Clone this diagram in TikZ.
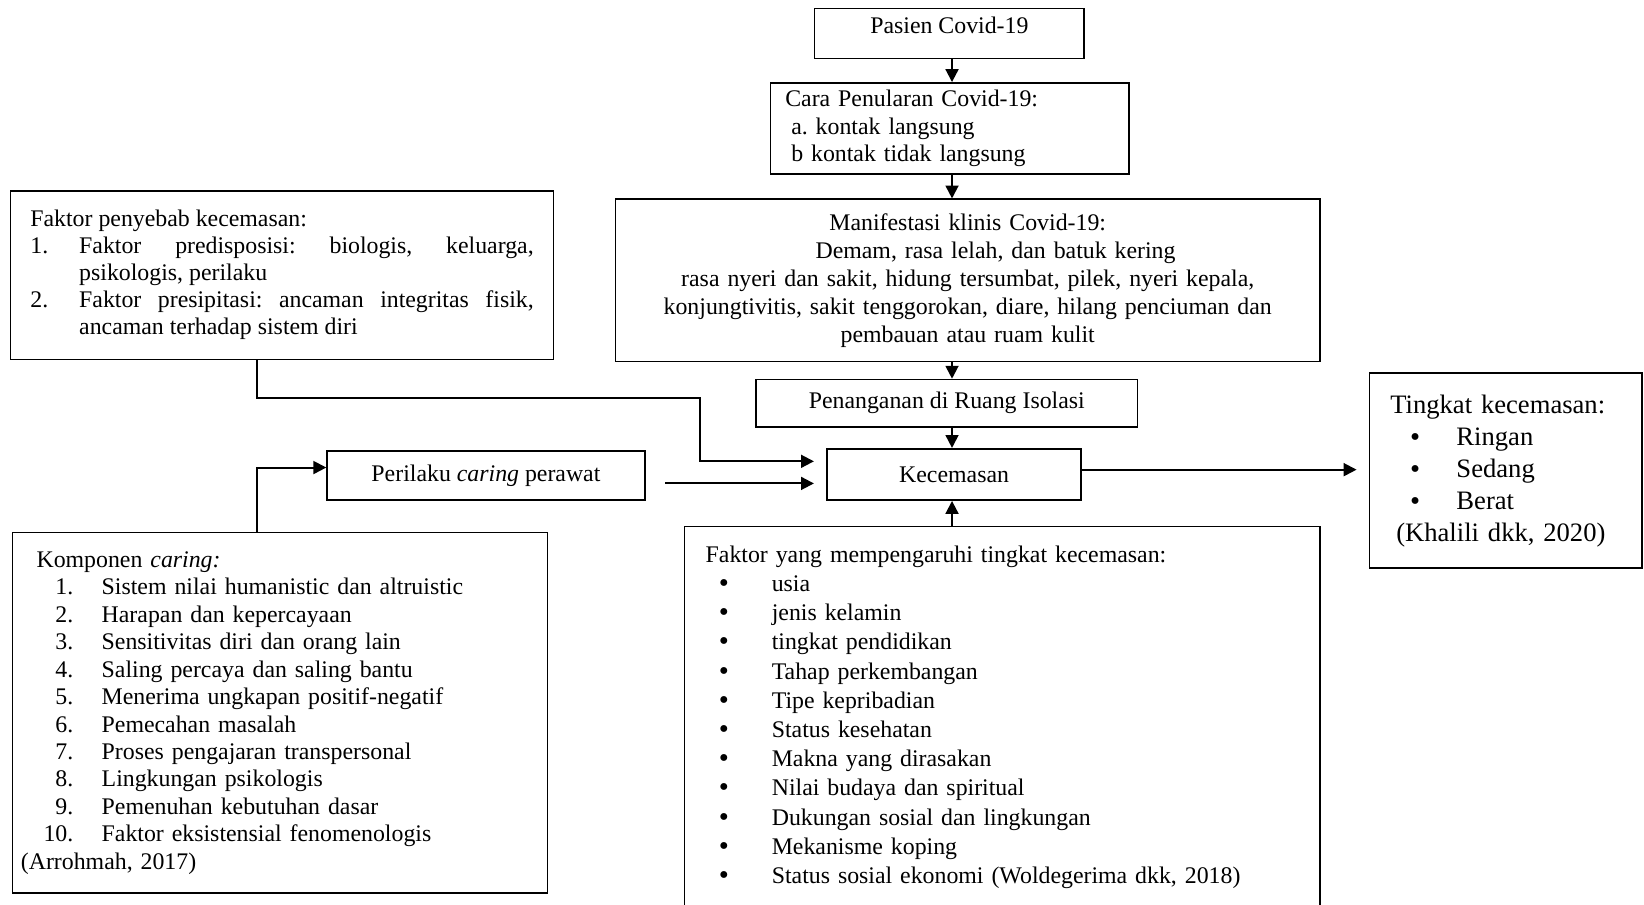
\documentclass[tikz,border=0pt]{standalone}
\usepackage{fontspec}
\setmainfont{Liberation Serif}
\usetikzlibrary{arrows.meta}
\setlength{\parindent}{0pt}
\frenchspacing
\newcommand{\bigdot}{\raisebox{-0.5pt}{\fontsize{14.5}{0}\selectfont\textbullet}}

\begin{document}
\begin{tikzpicture}[x=0.528pt, y=-0.528pt,
  box/.style={draw, line width=0.8pt, inner ysep=0pt, font=\fontsize{12}{13.8}\selectfont},
  arr/.style={line width=1pt, -{Triangle[length=6.5pt, width=6.5pt]}}]
  \useasboundingbox (0,0) rectangle (1568,863);
  % centre column
  \node[box, minimum width=135.7pt, minimum height=25.3pt, align=center] (pasien) at (905.5,32) {Pasien Covid-19\\[-5pt]\mbox{}};
  \node[box, text width=165.8pt, inner xsep=7.4pt, minimum height=45.9pt, align=left] (cara) at (906,122.5)
    {Cara Penularan Covid-19:\\ \hspace*{3pt}a. kontak langsung\\ \hspace*{3pt}b kontak tidak langsung};
  \node[box, text width=340pt, minimum width=354.8pt, minimum height=81.8pt, align=center, font=\fontsize{12}{14.1}\selectfont] (manif) at (923,267.5)
    {Manifestasi klinis Covid-19:\\
     \hspace*{28pt}Demam, rasa lelah, dan batuk kering\\
     rasa nyeri dan sakit, hidung tersumbat, pilek, nyeri kepala,\\
     konjungtivitis, sakit tenggorokan, diare, hilang penciuman dan\\
     pembauan atau ruam kulit};
  \node[box, minimum width=192.2pt, minimum height=23.8pt] (penang) at (903,384.5) {Penanganan di Ruang Isolasi};
  \node[box, minimum width=127.8pt, minimum height=25.9pt] (kecem) at (910,452.5) {Kecemasan};
  \node[box, text width=116.1pt, inner xsep=10.6pt, minimum height=98.2pt, align=left, font=\fontsize{13.4}{16.1}\selectfont] (tingkat) at (1436,449)
    {Tingkat kecemasan:\\
     \hspace*{10pt}\makebox[23.3pt][l]{\bigdot}Ringan\\
     \hspace*{10pt}\makebox[23.3pt][l]{\bigdot}Sedang\\
     \hspace*{10pt}\makebox[23.3pt][l]{\bigdot}Berat\\
     \hspace*{3pt}(Khalili dkk, 2020)};
  \node[box, text width=298.8pt, inner xsep=10.6pt, minimum height=192.2pt, align=left, font=\fontsize{12}{14.7}\selectfont] (faktorya) at (956,684)
    {Faktor yang mempengaruhi tingkat kecemasan:\\
     \hspace*{6.6pt}\makebox[26.7pt][l]{\bigdot}usia\\
     \hspace*{6.6pt}\makebox[26.7pt][l]{\bigdot}jenis kelamin\\
     \hspace*{6.6pt}\makebox[26.7pt][l]{\bigdot}tingkat pendidikan\\
     \hspace*{6.6pt}\makebox[26.7pt][l]{\bigdot}Tahap perkembangan\\
     \hspace*{6.6pt}\makebox[26.7pt][l]{\bigdot}Tipe kepribadian\\
     \hspace*{6.6pt}\makebox[26.7pt][l]{\bigdot}Status kesehatan\\
     \hspace*{6.6pt}\makebox[26.7pt][l]{\bigdot}Makna yang dirasakan\\
     \hspace*{6.6pt}\makebox[26.7pt][l]{\bigdot}Nilai budaya dan spiritual\\
     \hspace*{6.6pt}\makebox[26.7pt][l]{\bigdot}Dukungan sosial dan lingkungan\\
     \hspace*{6.6pt}\makebox[26.7pt][l]{\bigdot}Mekanisme koping\\
     \hspace*{6.6pt}\makebox[26.7pt][l]{\bigdot}Status sosial ekonomi (Woldegerima dkk, 2018)};
  % left column
  \node[box, text width=253.5pt, inner xsep=10pt, minimum height=85pt, align=justify, font=\fontsize{12}{13.6}\selectfont] (penyebab) at (269,262.5)
    {Faktor penyebab kecemasan:\par
     \hangindent=24.6pt\hangafter=1\makebox[24.6pt][l]{1.}Faktor predisposisi: biologis, keluarga,\linebreak psikologis, perilaku\par
     \hangindent=24.6pt\hangafter=1\makebox[24.6pt][l]{2.}Faktor presipitasi: ancaman integritas fisik,\linebreak ancaman terhadap sistem diri\par};
  \node[box, minimum width=160pt, minimum height=24.8pt] (perilaku) at (463.5,453.5) {Perilaku \textit{caring} perawat};
  \node[box, text width=260.9pt, inner xsep=4.2pt, minimum height=181.6pt, align=left] (komponen) at (267,680)
    {\hspace*{7.9pt}Komponen \textit{caring:}\\
     \makebox[26.4pt][r]{1.}\hspace{14.3pt}Sistem nilai humanistic dan altruistic\\
     \makebox[26.4pt][r]{2.}\hspace{14.3pt}Harapan dan kepercayaan\\
     \makebox[26.4pt][r]{3.}\hspace{14.3pt}Sensitivitas diri dan orang lain\\
     \makebox[26.4pt][r]{4.}\hspace{14.3pt}Saling percaya dan saling bantu\\
     \makebox[26.4pt][r]{5.}\hspace{14.3pt}Menerima ungkapan positif-negatif\\
     \makebox[26.4pt][r]{6.}\hspace{14.3pt}Pemecahan masalah\\
     \makebox[26.4pt][r]{7.}\hspace{14.3pt}Proses pengajaran transpersonal\\
     \makebox[26.4pt][r]{8.}\hspace{14.3pt}Lingkungan psikologis\\
     \makebox[26.4pt][r]{9.}\hspace{14.3pt}Pemenuhan kebutuhan dasar\\
     \makebox[26.4pt][r]{10.}\hspace{14.3pt}Faktor eksistensial fenomenologis\\
     (Arrohmah, 2017)};
  % connectors
  \coordinate (axis) at (908,0);
  \coordinate (leftaxis) at (245,0);
  \coordinate (bend) at (668,380);
  \draw[arr] (axis |- pasien.south) -- (axis |- cara.north);
  \draw[arr] (axis |- cara.south) -- (axis |- manif.north);
  \draw[arr] (axis |- manif.south) -- (axis |- penang.north);
  \draw[arr] (axis |- penang.south) -- (axis |- kecem.north);
  \draw[arr] (axis |- faktorya.north) -- (axis |- kecem.south);
  \draw[arr, shorten >=6pt] ([yshift=2.4pt]kecem.east) -- ([yshift=2.4pt]kecem.east -| tingkat.west);
  \draw[arr, shorten >=6.3pt] (leftaxis |- penyebab.south) |- (bend) |- ([yshift=6.6pt]kecem.west);
  \draw[arr, shorten <=10pt, shorten >=6.3pt] ([yshift=-4pt]perilaku.east) -- ([yshift=-4pt]perilaku.east -| kecem.west);
  \draw[arr] (leftaxis |- komponen.north) |- ([yshift=4pt]perilaku.west);
\end{tikzpicture}
\end{document}
